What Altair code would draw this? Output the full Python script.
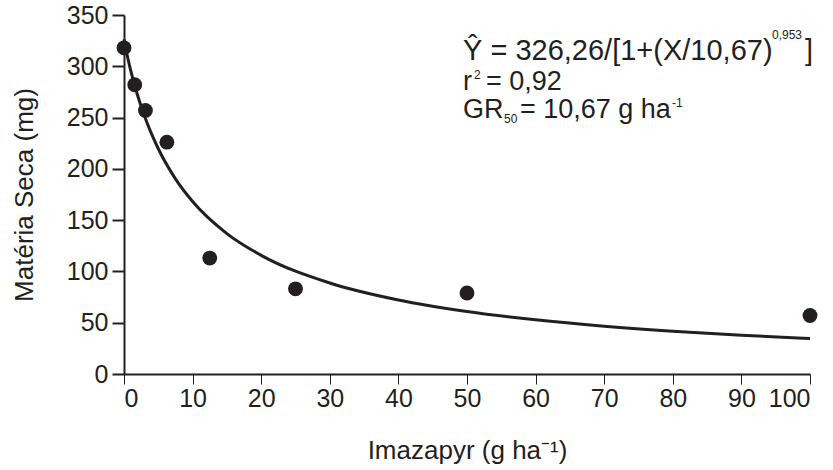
import altair as alt
import pandas as pd

# Observed data (Imazapyr dose, dry matter)
dose = [0, 1.5625, 3.125, 6.25, 12.5, 25, 50, 100]
dry_mass = [318, 282, 257, 226, 113, 83, 79, 57]

# Fitted curve
curve_x = [0, 0.5, 1, 2, 3, 5, 7.5, 10, 15, 20, 30, 40, 50, 60, 70, 80, 90, 100]
curve_y = [326.3, 309.5, 295.3, 271.3, 251.3, 219.6, 190.3, 168.2, 136.9, 115.7,
           88.7, 72.1, 60.9, 52.8, 46.6, 41.7, 37.8, 34.6]

x_ticks = [0, 10, 20, 30, 40, 50, 60, 70, 80, 90, 100]
y_ticks = [0, 50, 100, 150, 200, 250, 300, 350]

INK = "#231f20"
FONT = "Liberation Sans"

pts = pd.DataFrame({"x": dose, "y": dry_mass})
crv = pd.DataFrame({"x": curve_x, "y": curve_y})

xs = alt.Scale(domain=[0, 100], nice=False)
ys = alt.Scale(domain=[0, 350], nice=False)

xax = alt.Axis(values=x_ticks, title="Imazapyr (g ha⁻¹)", grid=False,
               domainColor=INK, domainWidth=2, tickColor=INK, tickWidth=1, tickSize=10,
               labelFont=FONT, labelFontSize=25, labelColor=INK, labelPadding=2,
               titleFont=FONT, titleFontSize=26, titleFontWeight="normal", titleColor=INK,
               titlePadding=26)
yax = alt.Axis(values=y_ticks, title="Matéria Seca (mg)", grid=False,
               domainColor=INK, domainWidth=2, tickColor=INK, tickWidth=2, tickSize=12,
               labelFont=FONT, labelFontSize=25, labelColor=INK, labelPadding=4,
               titleFont=FONT, titleFontSize=26, titleFontWeight="normal", titleColor=INK,
               titlePadding=29)

line = alt.Chart(crv).mark_line(color=INK, strokeWidth=3, interpolate="monotone", clip=False).encode(
    x=alt.X("x:Q", scale=xs, axis=xax),
    y=alt.Y("y:Q", scale=ys, axis=yax),
)
dots = alt.Chart(pts).mark_circle(color=INK, opacity=1, size=220, clip=False).encode(
    x=alt.X("x:Q", scale=xs),
    y=alt.Y("y:Q", scale=ys),
)

def label(txt, x, y, size):
    return alt.Chart(pd.DataFrame({"t": [txt]})).mark_text(
        font=FONT, fontSize=size, color=INK, align="left", baseline="alphabetic"
    ).encode(text="t:N", x=alt.value(x), y=alt.value(y))

BIG = 27
SMALL = 12
notes = [
    label("Ŷ = 326,26/[1+(X/10,67)", 339, 45, 29),
    label("0,953", 648, 24, SMALL),
    label("]", 681, 45, 29),
    label("r", 339, 75, BIG),
    label("2", 350, 64, SMALL),
    label("= 0,92", 362, 75, BIG),
    label("GR", 339, 103, BIG),
    label("50", 380, 108, SMALL),
    label("= 10,67 g ha", 396, 103, BIG),
    label("-1", 548, 92, SMALL),
]

chart = alt.layer(line, dots, *notes).properties(
    width=686, height=359,
    autosize=alt.AutoSizeParams(type="none"),
    padding={"left": 124, "top": 15, "right": 23, "bottom": 96},
    background="white",
).configure_view(stroke=None)

chart.save("out.html", embed_options={"renderer": "svg", "actions": False})
